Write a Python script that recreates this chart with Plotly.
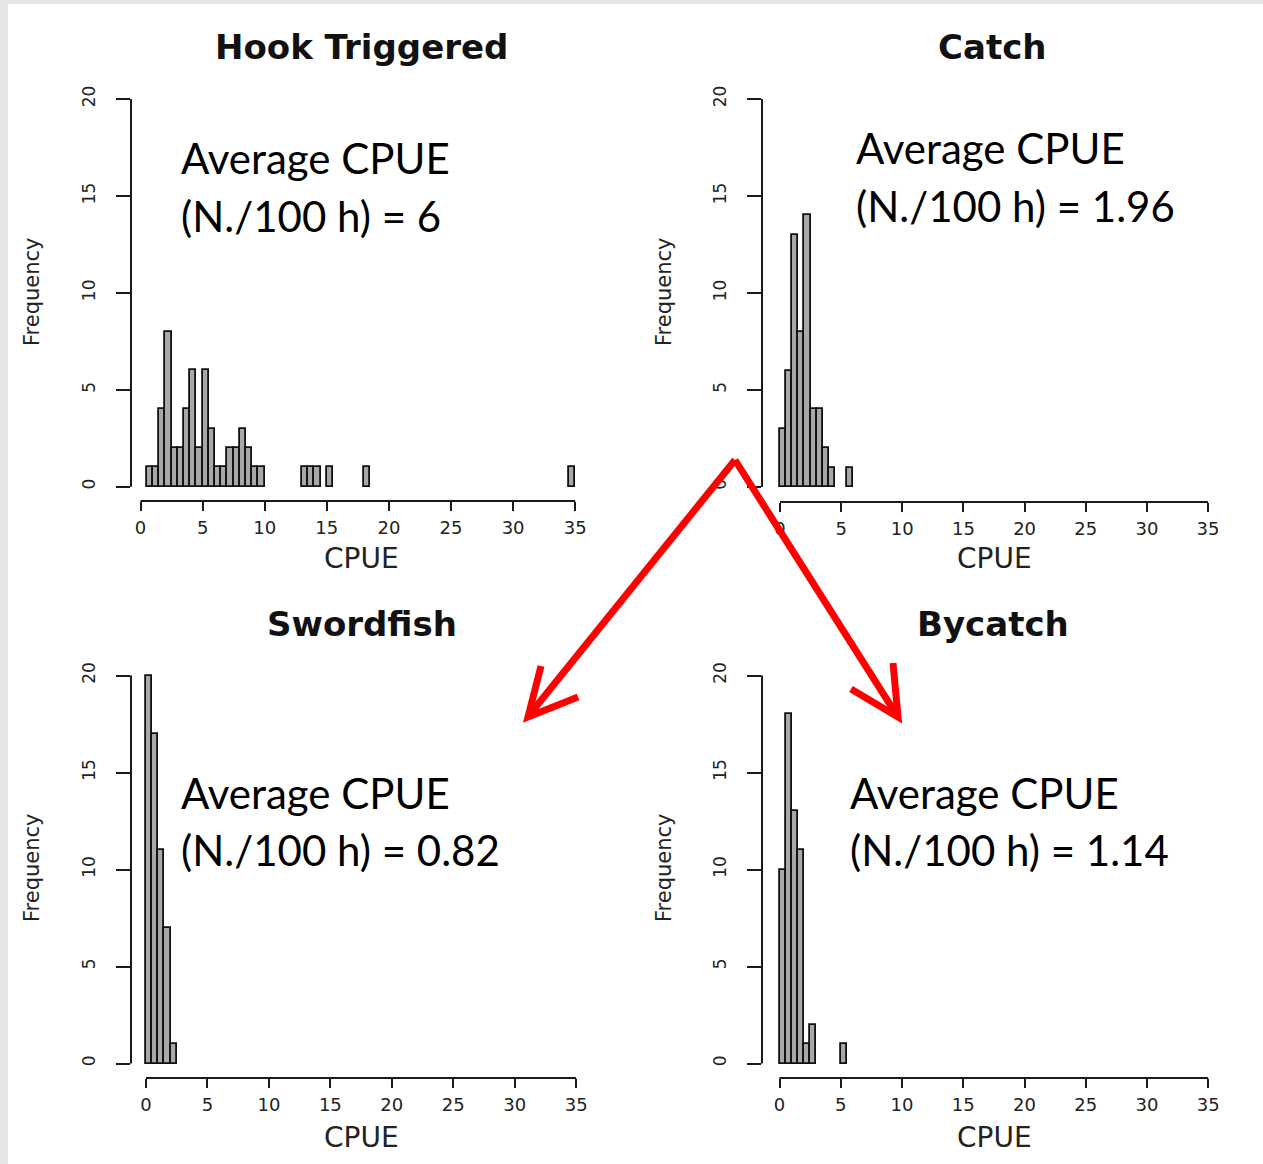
import plotly.graph_objects as go

W, H = 1263, 1164
BIN = 0.5

# ---------------- data ----------------
hook_starts = [0.5, 1.0, 1.5, 2.0, 2.5, 3.0, 3.5, 4.0, 4.5, 5.0, 5.5, 6.0, 6.5, 7.0, 7.5,
               8.0, 8.5, 9.0, 9.5, 13.0, 13.5, 14.0, 15.0, 18.0, 34.5]
hook_counts = [1, 1, 4, 8, 2, 2, 4, 6, 2, 6, 3, 1, 1, 2, 2,
               3, 2, 1, 1, 1, 1, 1, 1, 1, 1]

catch_starts = [0.0, 0.5, 1.0, 1.5, 2.0, 2.5, 3.0, 3.5, 4.0, 5.5]
catch_counts = [3, 6, 13, 8, 14, 4, 4, 2, 1, 1]

sword_starts = [0.0, 0.5, 1.0, 1.5, 2.0]
sword_counts = [20, 17, 11, 7, 1]

bycatch_starts = [0.0, 0.5, 1.0, 1.5, 2.0, 2.5, 5.0]
bycatch_counts = [10, 18, 13, 11, 1, 2, 1]

titles = ["Hook Triggered", "Catch", "Swordfish", "Bycatch"]
cpue_labels = ["6", "1.96", "0.82", "1.14"]

x_ticks = [0, 5, 10, 15, 20, 25, 30, 35]
y_ticks = [0, 5, 10, 15, 20]

series = [(hook_starts, hook_counts), (catch_starts, catch_counts),
          (sword_starts, sword_counts), (bycatch_starts, bycatch_counts)]

# ---------------- layout geometry (pixels) ----------------
panels = [
    dict(x0px=140.5, xpu=12.42, y0px=486.7, ypu=19.385, L=131, R=595, T=80, B=501,
         title=(362, 47), xlab=(362, 558), ylab=(32, 292), txt=(179, 158, 216)),
    dict(x0px=780.0, xpu=12.23, y0px=487.0, ypu=19.40, L=762, R=1225, T=80, B=502,
         title=(993, 47), xlab=(994, 558), ylab=(664, 292), txt=(854, 148, 206)),
    dict(x0px=146.0, xpu=12.29, y0px=1063.5, ypu=19.40, L=131, R=595, T=657, B=1078,
         title=(362, 624), xlab=(362, 1137), ylab=(32, 868), txt=(179, 793, 850)),
    dict(x0px=779.5, xpu=12.25, y0px=1063.5, ypu=19.40, L=762, R=1225, T=657, B=1078,
         title=(993, 624), xlab=(994, 1137), ylab=(664, 868), txt=(848, 793, 850)),
]


def px(x):
    return x / W


def py(y):
    return 1 - y / H


fig = go.Figure()
layout = dict(
    width=W, height=H, margin=dict(l=0, r=0, t=0, b=0),
    paper_bgcolor="white", plot_bgcolor="white", showlegend=False,
    bargap=0, barmode="overlay",
)
shapes = []
annotations = []

AX_COLOR = "#1a1a1a"
TICK_FONT = dict(family="DejaVu Sans", size=18, color="#222")

for i, (p, (starts, counts)) in enumerate(zip(panels, series)):
    n = "" if i == 0 else str(i + 1)
    xa, ya = "xaxis" + n, "yaxis" + n
    xr, yr = "x" + n, "y" + n

    fig.add_trace(go.Bar(
        x=starts, y=counts, width=BIN, offset=0,
        marker=dict(color="#a8a8a8", line=dict(color="#111", width=1.8)),
        xaxis=xr, yaxis=yr, hoverinfo="skip",
    ))

    xmin = (p["L"] - p["x0px"]) / p["xpu"]
    xmax = (p["R"] - p["x0px"]) / p["xpu"]
    ymin = (p["y0px"] - p["B"]) / p["ypu"]
    ymax = (p["y0px"] - p["T"]) / p["ypu"]

    layout[xa] = dict(
        domain=[px(p["L"]), px(p["R"])], range=[xmin, xmax], anchor=yr,
        showgrid=False, zeroline=False, showline=False,
        ticks="outside", ticklen=9, tickwidth=2, tickcolor=AX_COLOR,
        tickvals=x_ticks, ticktext=[str(v) for v in x_ticks],
        tickfont=TICK_FONT, ticklabelstandoff=1, fixedrange=True,
    )
    layout[ya] = dict(
        domain=[py(p["B"]), py(p["T"])], range=[ymin, ymax], anchor=xr,
        showgrid=False, zeroline=False, showline=False,
        ticks="outside", ticklen=14, tickwidth=2, tickcolor=AX_COLOR,
        tickvals=y_ticks, ticktext=[str(v) for v in y_ticks], tickangle=-90,
        tickfont=dict(family="DejaVu Sans", size=17, color="#222"),
        ticklabelstandoff=14, fixedrange=True,
    )

    # R-style axis lines spanning first..last tick
    shapes.append(dict(type="line", xref=xr, yref=yr + " domain",
                       x0=x_ticks[0], x1=x_ticks[-1], y0=0, y1=0,
                       line=dict(color=AX_COLOR, width=2)))
    shapes.append(dict(type="line", xref=xr + " domain", yref=yr,
                       x0=0, x1=0, y0=y_ticks[0], y1=y_ticks[-1],
                       line=dict(color=AX_COLOR, width=2)))

    annotations.append(dict(text=titles[i], x=px(p["title"][0]), y=py(p["title"][1]),
                            xref="paper", yref="paper", showarrow=False,
                            xanchor="center", yanchor="middle",
                            font=dict(family="DejaVu Sans", size=34, color="#111", weight="bold")))
    annotations.append(dict(text="CPUE", x=px(p["xlab"][0]), y=py(p["xlab"][1]),
                            xref="paper", yref="paper", showarrow=False,
                            xanchor="center", yanchor="middle",
                            font=dict(family="DejaVu Sans", size=28, color="#222")))
    annotations.append(dict(text="Frequency", x=px(p["ylab"][0]), y=py(p["ylab"][1]),
                            xref="paper", yref="paper", showarrow=False, textangle=-90,
                            xanchor="center", yanchor="middle",
                            font=dict(family="DejaVu Sans", size=21, color="#222")))
    tx, ty1, ty2 = p["txt"]
    annotations.append(dict(text="Average CPUE", x=px(tx), y=py(ty1),
                            xref="paper", yref="paper", showarrow=False,
                            xanchor="left", yanchor="middle",
                            font=dict(family="Lato", size=42, color="#000")))
    annotations.append(dict(text="(N./100 h) = " + cpue_labels[i], x=px(tx), y=py(ty2),
                            xref="paper", yref="paper", showarrow=False,
                            xanchor="left", yanchor="middle",
                            font=dict(family="Lato", size=42, color="#000")))

# grey frame strips at top and left
shapes.append(dict(type="rect", xref="paper", yref="paper", x0=0, x1=px(8), y0=0, y1=1,
                   fillcolor="#e6e6e6", line=dict(width=0), layer="below"))
shapes.append(dict(type="rect", xref="paper", yref="paper", x0=0, x1=1, y0=py(4), y1=1,
                   fillcolor="#e6e6e6", line=dict(width=0), layer="below"))


def path(points):
    return "M " + " L ".join(f"{px(a):.5f},{py(b):.5f}" for a, b in points)


RED = "#ff0000"
arrow_paths = [
    [(735, 460), (530, 714)],
    [(541, 666), (528, 717), (578, 697)],
    [(735, 460), (896, 714)],
    [(851, 689), (898, 717), (893, 663)],
]
for pts in arrow_paths:
    shapes.append(dict(type="path", xref="paper", yref="paper", path=path(pts),
                       line=dict(color=RED, width=7), layer="above"))

layout["shapes"] = shapes
layout["annotations"] = annotations
fig.update_layout(**layout)
fig.write_html("out.html")
